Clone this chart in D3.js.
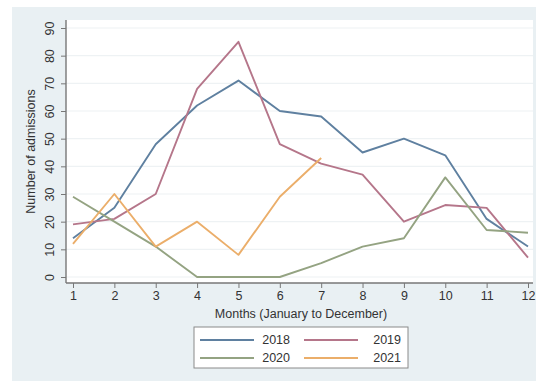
<!DOCTYPE html>
<html>
<head>
<meta charset="utf-8">
<script src="https://cdn.jsdelivr.net/npm/d3@7"></script>
<style>
  html, body { margin: 0; padding: 0; background: #ffffff; }
  svg { display: block; }
  text { font-family: "Liberation Sans", Arial, sans-serif; fill: #333333; }
</style>
</head>
<body>
<svg id="chart" width="542" height="381"></svg>
<script>
// Monthly admissions by year
const months = [1, 2, 3, 4, 5, 6, 7, 8, 9, 10, 11, 12];
const admissions2018 = [14, 25, 48, 62, 71, 60, 58, 45, 50, 44, 21, 11];
const admissions2019 = [19, 21, 30, 68, 85, 48, 41, 37, 20, 26, 25, 7];
const admissions2020 = [29, 20, 11, 0, 0, 0, 5, 11, 14, 36, 17, 16];
const admissions2021 = [12, 30, 11, 20, 8, 29, 43];
const yTicks = [0, 10, 20, 30, 40, 50, 60, 70, 80, 90];

const series = [
  { name: "2018", values: admissions2018, color: "#5f80a0" },
  { name: "2019", values: admissions2019, color: "#b5768a" },
  { name: "2020", values: admissions2020, color: "#94a382" },
  { name: "2021", values: admissions2021, color: "#ebae6a" }
];

const svg = d3.select("#chart");

// Outer graph region and white plot region
svg.append("rect").attr("x", 12).attr("y", 7).attr("width", 524).attr("height", 374)
  .attr("fill", "#e9f0f3");
const plot = { left: 66, right: 533, top: 20, bottom: 283 };
svg.append("rect").attr("x", plot.left).attr("y", plot.top)
  .attr("width", plot.right - plot.left).attr("height", plot.bottom - plot.top)
  .attr("fill", "#ffffff");

const x = d3.scaleLinear().domain([1, 12]).range([73, 528]);
const y = d3.scaleLinear().domain([0, 90]).range([277, 28]);

// Horizontal gridlines
svg.append("g").selectAll("line").data(yTicks).join("line")
  .attr("x1", plot.left).attr("x2", plot.right)
  .attr("y1", d => y(d)).attr("y2", d => y(d))
  .attr("stroke", "#eef2f4").attr("stroke-width", 1.2);

// Y axis with rotated tick labels
const yAxis = svg.append("g").attr("transform", `translate(${plot.left},0)`)
  .call(d3.axisLeft(y).tickValues(yTicks).tickSize(5).tickPadding(0).tickFormat(d3.format("d")));
yAxis.select(".domain").attr("d", `M0,${plot.top}V${plot.bottom}`).attr("stroke", "#777777").attr("stroke-width", 1.4);
yAxis.selectAll(".tick line").attr("stroke", "#777777");
yAxis.selectAll(".tick text")
  .attr("x", null).attr("dy", null)
  .attr("transform", "translate(-16,0) rotate(-90)")
  .attr("text-anchor", "middle")
  .attr("dominant-baseline", "central")
  .style("font-size", "12.5px");

// X axis
const xAxis = svg.append("g").attr("transform", `translate(0,${plot.bottom})`)
  .call(d3.axisBottom(x).tickValues(months).tickSize(5).tickPadding(3).tickFormat(d3.format("d")));
xAxis.select(".domain").attr("d", `M${plot.left},0H${plot.right}`).attr("stroke", "#777777").attr("stroke-width", 1.4);
xAxis.selectAll(".tick line").attr("stroke", "#777777");
xAxis.selectAll(".tick text").style("font-size", "12.5px");

svg.selectAll(".tick text").style("fill", "#333333").style("font-family", "'Liberation Sans', Arial, sans-serif");

// Axis titles
svg.append("text")
  .attr("transform", `translate(31,${(plot.top + plot.bottom) / 2}) rotate(-90)`)
  .attr("text-anchor", "middle").attr("dominant-baseline", "central")
  .style("font-size", "12.5px").text("Number of admissions");
svg.append("text")
  .attr("x", 301).attr("y", 318).attr("text-anchor", "middle")
  .style("font-size", "12.5px").text("Months (January to December)");

// Series lines
const line = d3.line().x((d, i) => x(months[i])).y(d => y(d));
svg.append("g").selectAll("path").data(series).join("path")
  .attr("d", d => line(d.values))
  .attr("fill", "none")
  .attr("stroke", d => d.color)
  .attr("stroke-width", 1.9)
  .attr("stroke-linejoin", "round");

// Legend
const legend = svg.append("g");
legend.append("rect").attr("x", 194).attr("y", 327).attr("width", 214).attr("height", 41)
  .attr("fill", "#ffffff").attr("stroke", "#8a8a8a").attr("stroke-width", 1);
const legendPos = [
  { lx: 200, tx: 290, ty: 340 },
  { lx: 304, tx: 401, ty: 340 },
  { lx: 200, tx: 290, ty: 358 },
  { lx: 304, tx: 401, ty: 358 }
];
series.forEach((s, i) => {
  const p = legendPos[i];
  legend.append("line").attr("x1", p.lx).attr("x2", p.lx + 54)
    .attr("y1", p.ty).attr("y2", p.ty)
    .attr("stroke", s.color).attr("stroke-width", 1.9);
  legend.append("text").attr("x", p.tx).attr("y", p.ty)
    .attr("text-anchor", "end").attr("dominant-baseline", "central")
    .style("font-size", "12.5px").text(s.name);
});
</script>
</body>
</html>
